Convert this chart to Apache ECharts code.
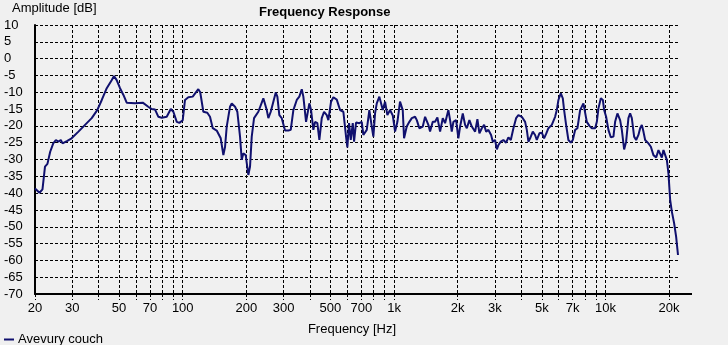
<!DOCTYPE html>
<html>
<head>
<meta charset="utf-8">
<script src="https://cdn.jsdelivr.net/npm/echarts@6/dist/echarts.min.js"></script>
<style>
  html, body { margin: 0; padding: 0; background: #f0f0f0; }
  #chart { width: 728px; height: 345px; }
</style>
</head>
<body>
<div id="chart"></div>
<script>
// Measured response of the couch position, frequency in Hz and level in dB
const freqHz = [
  20, 21.0, 21.7, 22.3, 22.9, 23.6, 24.4, 25.1, 25.8, 26.5, 27.0, 28.3, 29.8, 32.1, 34.5, 37.1, 39.4,
  41.4, 43.7, 46.1, 47.3, 48.7, 50.5, 52.4, 54.3, 59.5, 64.7, 68.7, 71.3, 73.9, 76.7, 79.6, 84.0,
  87.8, 90.3, 93.7, 96.4, 100, 102.5, 106.3, 111.5, 118.5, 121,
  125.2, 130.7, 134.6, 138.7, 144.8, 151.3, 155.7, 158.6, 161.5, 167.4, 170.6, 176.8, 181.3, 186.7,
  190.2, 193.5, 198.7, 200.9, 204.4, 208.2, 212.1, 217.5, 227.9, 232.2, 240.7, 245.2, 249.8, 254.2,
  260.9, 268.4, 275.5, 280.4, 286.5, 294.1, 304.9, 316.1, 324.4, 333.8, 346.4, 356.3, 365.8, 372.2,
  383.3, 388.8, 397.3, 404.8, 415.0, 422.8, 433.5, 443.1, 454.8, 466.4, 480.3, 488.7, 503.3, 516.1,
  535.6, 555.2, 575.5, 592.6, 601.1, 612.3, 623.8, 637.6, 646.7, 660.9, 685.1, 703.2, 715.6, 742.6,
  763.9, 784.2, 798.0, 812.9, 828.1, 851.9,
  884.1, 906.5, 929.5, 957.2, 985.8, 1011, 1037, 1067, 1099, 1115, 1148, 1181, 1213, 1257, 1281,
  1317, 1367, 1402, 1453, 1480, 1524, 1563, 1603, 1651, 1700, 1743, 1807, 1841, 1875, 1908, 1966,
  2015, 2053, 2114, 2168, 2209, 2272, 2332, 2418, 2479, 2534, 2601, 2667, 2726, 2795, 2878, 2932,
  3006, 3063, 3117, 3199, 3291, 3389, 3475, 3567, 3670, 3779, 3875, 4021, 4169, 4247, 4321, 4402,
  4533, 4648, 4735, 4872, 5001, 5127, 5241, 5373, 5576, 5780, 5888, 5992, 6151, 6286, 6376, 6516,
  6681, 6858, 7010, 7188, 7370,
  7590, 7868, 8016, 8166, 8400, 8623, 8940, 9107, 9267, 9513, 9723, 9861, 10077, 10332, 10606,
  10911, 11115, 11397, 11737, 11957, 12260, 12530, 12848, 13088, 13334, 13672, 13974, 14328, 14597,
  14870, 15131, 15415, 15980, 16404, 16875, 17379, 17820, 18154, 18494, 18820, 19172, 19526, 19870,
  20242, 20620, 21144, 21610, 22050
];
const levelDb = [
  -38.6, -39.9, -38.9, -32.1, -31.3, -27.7, -25.2, -24.2, -24.7, -24.2, -25.2, -24.5, -23.7, -21.7, -19.7, -17.7, -15.3,
  -12.3, -8.8, -6.4, -5.2, -6.4, -8.8, -10.8, -13.1, -13.3, -13.1, -14.3, -15.0, -15.1, -17.3, -17.6, -17.3,
  -15.0, -15.8, -18.8, -19.1, -18.3, -12.3, -11.5, -11.3, -9.1, -10.0,
  -15.8, -16.1, -17.3, -20.7, -21.4, -23.7, -28.7, -26.2, -20.2, -14.3, -13.3, -14.3, -15.8, -23.2,
  -30.1, -28.2, -28.7, -31.1, -34.6, -32.1, -23.2, -17.7, -15.8, -15.3, -11.8, -12.0, -15.3, -17.7,
  -15.8, -12.8, -10.1, -11.3, -16.8, -17.7, -21.4, -21.4, -21.2, -15.3, -12.3, -11.3, -9.1, -11.3,
  -18.8, -19.0, -13.3, -15.3, -21.2, -18.8, -19.2, -24.2, -17.7, -15.8, -16.8, -18.3, -12.8, -11.5,
  -12.2, -15.3, -15.8, -23.2, -26.4, -19.2, -24.2, -19.2, -24.7, -19.0, -19.2, -18.8, -22.7, -21.2,
  -15.3, -20.2, -23.2, -16.3, -13.3, -11.3,
  -15.3, -12.8, -16.8, -15.3, -16.9, -21.7, -18.8, -12.8, -15.3, -23.7, -20.2, -18.8, -17.7, -17.3, -18.3,
  -20.7, -20.2, -17.3, -19.7, -21.7, -18.8, -18.8, -17.5, -21.7, -17.7, -19.2, -15.3, -18.3, -21.7, -18.8, -18.3,
  -23.7, -20.2, -16.3, -19.7, -20.7, -18.3, -20.2, -21.7, -18.0, -22.2, -20.7, -19.7, -21.7, -21.2, -22.7, -24.7,
  -24.2, -27.0, -25.7, -24.7, -24.2, -25.0, -23.4, -24.2, -20.7, -17.7, -16.8, -17.3, -18.8, -21.2, -24.7, -23.7,
  -21.7, -22.7, -24.2, -22.2, -22.0, -23.7, -22.4, -20.7, -19.7, -17.3, -15.3, -12.3, -10.3, -11.8, -15.3, -19.7,
  -24.2, -25.0, -24.2, -21.2, -20.7,
  -15.3, -13.3, -13.8, -18.8, -20.0, -20.7, -20.7, -18.8, -14.8, -11.8, -12.3, -15.3, -17.3, -21.2, -23.4,
  -23.2, -18.8, -16.3, -18.3, -21.2, -27.0, -24.7, -17.7, -16.3, -17.7, -23.2, -24.2, -22.7, -20.7,
  -19.7, -21.7, -24.2, -25.2, -26.2, -28.7, -29.4, -27.2, -27.0, -29.4, -27.2, -27.0, -30.1, -34.1,
  -42.0, -45.5, -49.0, -53.0, -58.4
];

// Frequency grid lines and the subset that gets a label
const gridFreqs = [20, 30, 40, 50, 60, 70, 80, 90, 100, 200, 300, 400, 500, 600, 700, 800, 900,
  1000, 2000, 3000, 4000, 5000, 6000, 7000, 8000, 9000, 10000, 20000];
const labelFreqs = [20, 30, 50, 70, 100, 200, 300, 500, 700, 1000, 2000, 3000, 5000, 7000, 10000, 20000];

const freqMin = 20, freqMax = 22050;
const dbMin = -70, dbMax = 10, dbStep = 5;

const seriesName = 'Avevury couch';
const lineColor = '#10106e';
const font = 'Liberation Sans, Arial, sans-serif';
const fontSize = 13;

const chart = echarts.init(document.getElementById('chart'), null, { renderer: 'canvas' });

const points = freqHz.map((f, i) => [f, levelDb[i]]);

chart.setOption({
  animation: false,
  backgroundColor: '#f0f0f0',
  textStyle: { fontFamily: font, color: '#000' },
  title: [
    {
      text: 'Frequency Response',
      left: 259, top: 6, padding: 0,
      textStyle: { fontFamily: font, fontSize: 13, fontWeight: 'bold', color: '#000' }
    },
    {
      text: 'Amplitude [dB]',
      left: 12, top: 2, padding: 0,
      textStyle: { fontFamily: font, fontSize: fontSize, fontWeight: 'normal', color: '#000' }
    }
  ],
  legend: {
    left: 4, top: 333, padding: 0,
    icon: 'rect', itemWidth: 10, itemHeight: 2, itemGap: 10,
    textStyle: { fontFamily: font, fontSize: fontSize, color: '#000', padding: [0, 0, 0, -1] },
    data: [seriesName]
  },
  grid: { left: 35, right: 50, top: 25, bottom: 51, containLabel: false },
  xAxis: {
    type: 'log', logBase: 10, min: freqMin, max: freqMax,
    name: 'Frequency [Hz]', nameLocation: 'middle', nameGap: 29,
    nameTextStyle: { fontFamily: font, fontSize: fontSize, color: '#000', padding: [0, 9, 0, 0] },
    axisLine: { show: true, onZero: false, lineStyle: { color: '#000', width: 2 } },
    axisTick: { show: true, customValues: gridFreqs, length: 6,
      lineStyle: { color: '#000', width: 1, type: [3, 2] } },
    axisLabel: {
      customValues: labelFreqs, margin: 8, color: '#000', fontFamily: font, fontSize: fontSize,
      formatter: v => (v >= 1000 ? (v / 1000) + 'k' : String(v))
    },
    splitLine: { show: true, lineStyle: { color: '#000', width: 1, type: [3, 2] } },
    minorTick: { show: false }, minorSplitLine: { show: false }
  },
  yAxis: {
    type: 'value', min: dbMin, max: dbMax, interval: dbStep,
    axisLine: { show: true, onZero: false, lineStyle: { color: '#000', width: 2 } },
    axisTick: { show: false },
    axisLabel: { align: 'left', margin: 31, color: '#000', fontFamily: font, fontSize: fontSize },
    splitLine: { show: true, lineStyle: { color: '#000', width: 1, type: [3, 2] } }
  },
  series: [{
    name: seriesName,
    type: 'line',
    data: points,
    showSymbol: false,
    symbol: 'none',
    color: lineColor,
    lineStyle: { color: lineColor, width: 2 },
    z: 5
  }]
});

// The frequency axis line runs a little past the plotting area
const end = chart.convertToPixel({ xAxisIndex: 0, yAxisIndex: 0 }, [freqMax, dbMin]);
chart.setOption({
  graphic: [{
    type: 'line',
    shape: { x1: end[0], y1: end[1], x2: end[0] + 14, y2: end[1] },
    style: { stroke: '#000', lineWidth: 2 }
  }]
});
</script>
</body>
</html>
